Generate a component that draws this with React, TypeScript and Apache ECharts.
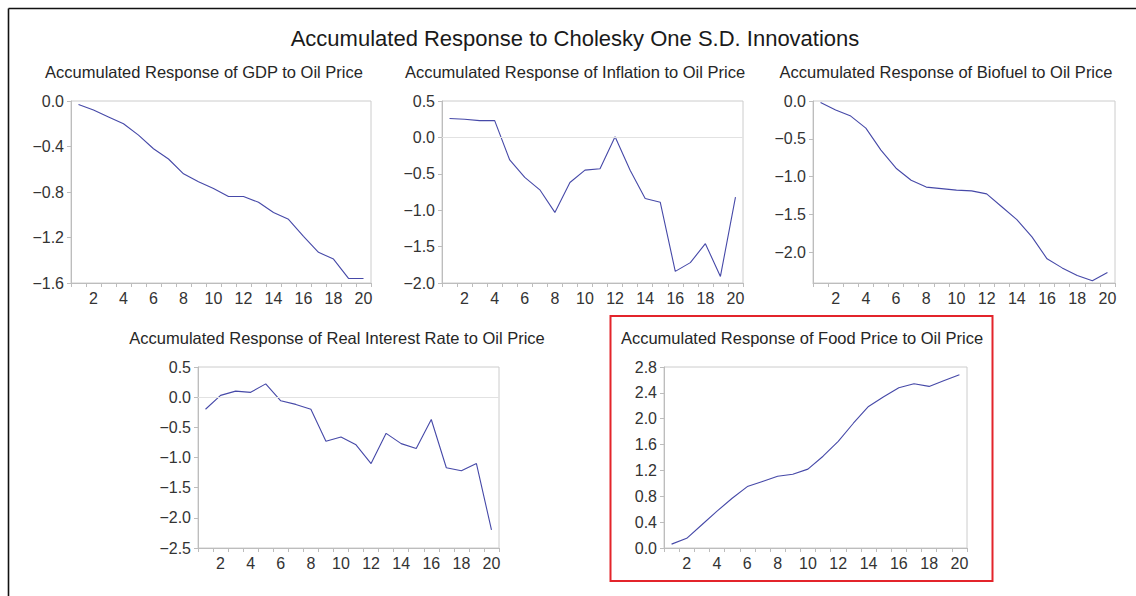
import React, { useEffect, useRef } from "react";
import * as echarts from "echarts";

const periods = ["1","2","3","4","5","6","7","8","9","10","11","12","13","14","15","16","17","18","19","20"];

const mainTitle = "Accumulated Response to Cholesky One S.D. Innovations";
const panelTitles = [
  "Accumulated Response of GDP to Oil Price",
  "Accumulated Response of Inflation to Oil Price",
  "Accumulated Response of Biofuel to Oil Price",
  "Accumulated Response of Real Interest Rate to Oil Price",
  "Accumulated Response of Food Price to Oil Price",
];

const gdp = [-0.03,-0.08,-0.14,-0.20,-0.30,-0.42,-0.51,-0.64,-0.71,-0.77,-0.84,-0.84,-0.89,-0.98,-1.04,-1.19,-1.33,-1.39,-1.56,-1.56];
const inflation = [0.26,0.25,0.23,0.23,-0.31,-0.55,-0.72,-1.03,-0.62,-0.45,-0.43,0.01,-0.45,-0.84,-0.89,-1.84,-1.72,-1.46,-1.91,-0.82];
const biofuel = [-0.02,-0.12,-0.20,-0.36,-0.65,-0.89,-1.05,-1.14,-1.16,-1.18,-1.19,-1.23,-1.40,-1.57,-1.80,-2.09,-2.21,-2.31,-2.38,-2.27];
const realInterest = [-0.20,0.03,0.10,0.08,0.22,-0.06,-0.12,-0.20,-0.73,-0.66,-0.79,-1.10,-0.60,-0.77,-0.85,-0.37,-1.17,-1.22,-1.10,-2.20];
const foodPrice = [0.06,0.15,0.36,0.57,0.77,0.95,1.03,1.11,1.14,1.22,1.42,1.65,1.93,2.19,2.34,2.48,2.54,2.50,2.59,2.68];

const yMins = [-1.6, -2.0, -2.41, -2.5, 0.0];
const yMaxs = [0.0, 0.5, 0.0, 0.5, 2.8];
const ySteps = [0.4, 0.5, 0.5, 0.5, 0.4];

const seriesData = [gdp, inflation, biofuel, realInterest, foodPrice];

const FONT = 'Arial, "Liberation Sans", sans-serif';

const grids = [
  { left: 71, top: 101, width: 300, height: 182 },
  { left: 442, top: 101, width: 301, height: 182 },
  { left: 813, top: 101, width: 302, height: 182 },
  { left: 198, top: 367, width: 301, height: 181 },
  { left: 664, top: 367, width: 303, height: 181 },
];
const titlePos = [
  { x: 204, y: 72 },
  { x: 575, y: 72 },
  { x: 946, y: 72 },
  { x: 337, y: 338 },
  { x: 802, y: 338 },
];

export default function App() {
  const ref = useRef<HTMLDivElement>(null);
  useEffect(() => {
    if (!ref.current) return;
    const chart = echarts.init(ref.current, undefined, { renderer: "svg" });
    const axisColor = "#bdbdbd";
    const option: any = {
      animation: false,
      backgroundColor: "#ffffff",
      grid: grids.map((g) => ({
        ...g,
        show: true,
        borderColor: "#cccccc",
        borderWidth: 1,
        containLabel: false,
      })),
      xAxis: grids.map((_, i) => ({
        type: "category",
        gridIndex: i,
        data: periods,
        boundaryGap: true,
        axisLine: { show: true, onZero: false, lineStyle: { color: axisColor, width: 1 } },
        axisTick: { show: true, interval: 0, length: 4, lineStyle: { color: axisColor } },
        axisLabel: {
          interval: (index: number) => index % 2 === 1,
          color: "#333",
          fontSize: 16,
          fontFamily: FONT,
          margin: 7,
        },
        splitLine: { show: false },
      })),
      yAxis: grids.map((_, i) => ({
        type: "value",
        gridIndex: i,
        min: yMins[i],
        max: yMaxs[i],
        minInterval: ySteps[i],
        maxInterval: ySteps[i],
        splitNumber: 5,
        axisLine: { show: true, onZero: false, lineStyle: { color: axisColor, width: 1 } },
        axisTick: { show: true, length: 4, lineStyle: { color: axisColor } },
        axisLabel: {
          color: "#333",
          fontSize: 16,
          fontFamily: FONT,
          margin: 7,
          showMinLabel: i === 2 ? false : true,
          formatter: (v: number) => {
            const r = Math.round(v / ySteps[i]) * ySteps[i];
            if (Math.abs(r - v) > 1e-6) return "";
            return r.toFixed(1).replace("-", "\u2212");
          },
        },
        splitLine: { show: false },
      })),
      series: seriesData.map((d, i) => ({
        type: "line",
        xAxisIndex: i,
        yAxisIndex: i,
        data: d,
        symbol: "none",
        showSymbol: false,
        lineStyle: { color: "#4649a8", width: 1.1 },
        silent: true,
        markLine:
          yMins[i] < 0 && yMaxs[i] > 0
            ? {
                silent: true,
                symbol: "none",
                label: { show: false },
                lineStyle: { color: "#e2e2e2", width: 1, type: "solid" },
                data: [{ yAxis: 0 }],
              }
            : undefined,
        z: 3,
      })),
      graphic: [
        {
          type: "line",
          shape: { x1: 8.5, y1: 8.5, x2: 1136, y2: 8.5 },
          style: { stroke: "#111", lineWidth: 1.6 },
        },
        {
          type: "line",
          shape: { x1: 8.5, y1: 8.5, x2: 8.5, y2: 596 },
          style: { stroke: "#111", lineWidth: 1.6 },
        },
        {
          type: "rect",
          shape: { x: 610.5, y: 316, width: 382, height: 265 },
          style: { fill: "none", stroke: "#e3242b", lineWidth: 2 },
        },
        {
          type: "text",
          x: 575,
          y: 38,
          style: {
            text: mainTitle,
            fontSize: 22,
            fontFamily: FONT,
            fill: "#1a1a1a",
            align: "center",
            verticalAlign: "middle",
            textAlign: "center",
            textVerticalAlign: "middle",
          },
        },
        ...panelTitles.map((t, i) => ({
          type: "text",
          x: titlePos[i].x,
          y: titlePos[i].y,
          style: {
            text: t,
            fontSize: 16.5,
            fontFamily: FONT,
            fill: "#262626",
            align: "center",
            verticalAlign: "middle",
            textAlign: "center",
            textVerticalAlign: "middle",
          },
        })),
      ],
    };
    chart.setOption(option);
    return () => chart.dispose();
  }, []);
  return (
    <div
      ref={ref}
      style={{ position: "fixed", left: 0, top: 0, width: 1136, height: 596, background: "#fff" }}
    />
  );
}
